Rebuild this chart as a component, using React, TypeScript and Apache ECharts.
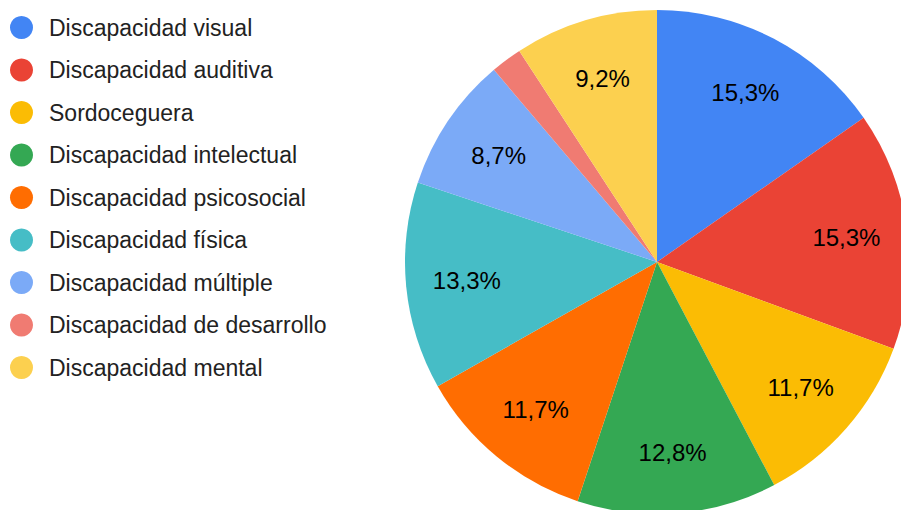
import React, { useEffect, useRef } from "react";
import * as echarts from "echarts";

const categories = [
  "Discapacidad visual",
  "Discapacidad auditiva",
  "Sordoceguera",
  "Discapacidad intelectual",
  "Discapacidad psicosocial",
  "Discapacidad física",
  "Discapacidad múltiple",
  "Discapacidad de desarrollo",
  "Discapacidad mental",
];
const values = [15.3, 15.3, 11.7, 12.8, 11.7, 13.3, 8.7, 2.0, 9.2];
const colors = [
  "#4285F4",
  "#EA4335",
  "#FBBC04",
  "#34A853",
  "#FF6D01",
  "#46BDC6",
  "#7BAAF7",
  "#F07B72",
  "#FCD04F",
];

const FONT = "Arial, 'Liberation Sans', sans-serif";

export default function App() {
  const ref = useRef<HTMLDivElement>(null);
  useEffect(() => {
    if (!ref.current) return;
    const chart = echarts.init(ref.current, null, { renderer: "svg" });
    const data = categories.map((name, i) => ({
      name,
      value: values[i],
      itemStyle: { color: colors[i] },
    }));
    const labelData = categories.map((name, i) => ({
      name,
      value: values[i],
      label: { show: values[i] >= 5 },
    }));
    chart.setOption({
      animation: false,
      color: colors,
      legend: {
        orient: "vertical",
        left: 5,
        top: 11,
        icon: "circle",
        itemWidth: 23,
        itemHeight: 23,
        itemGap: 19.5,
        data: categories,
        selectedMode: false,
        textStyle: {
          fontFamily: FONT,
          fontSize: 23,
          color: "#222222",
          padding: [0, 0, 0, 11],
        },
      },
      series: [
        {
          type: "pie",
          center: [657, 262],
          radius: [0, 252],
          startAngle: 90,
          clockwise: true,
          data,
          label: { show: false },
          labelLine: { show: false },
          itemStyle: { borderWidth: 0 },
          emphasis: { disabled: true },
          silent: true,
        },
        {
          type: "pie",
          center: [657, 262],
          radius: [124, 252],
          startAngle: 90,
          clockwise: true,
          data: labelData,
          itemStyle: { color: "rgba(0,0,0,0)", borderWidth: 0 },
          label: {
            position: "inside",
            fontFamily: FONT,
            fontSize: 24,
            color: "#000000",
            formatter: (p: any) => `${Number(p.value).toFixed(1).replace(".", ",")}%`,
          },
          labelLine: { show: false },
          emphasis: { disabled: true },
          silent: true,
        },
      ],
    });
    return () => chart.dispose();
  }, []);
  return (
    <div
      ref={ref}
      style={{ position: "fixed", left: 0, top: 0, width: 901, height: 510, background: "#fff" }}
    />
  );
}
